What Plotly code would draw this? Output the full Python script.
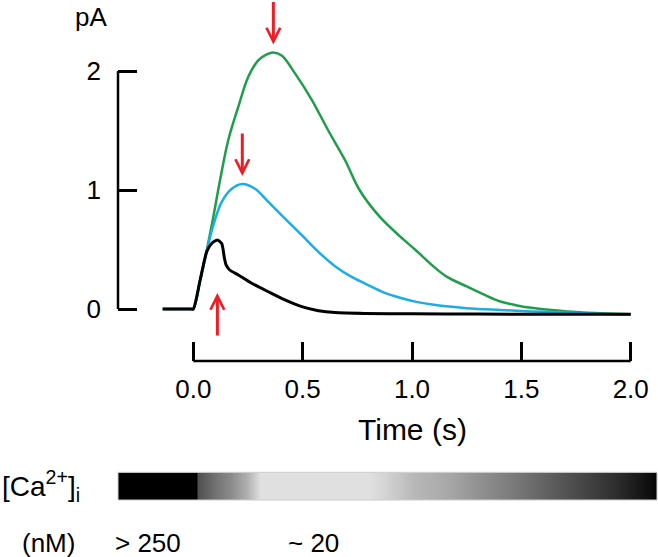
import plotly.graph_objects as go

# --- data ---
t_black = [-0.14, -0.012, 0.0, 0.031, 0.061, 0.084, 0.11, 0.13, 0.142, 0.15, 0.165, 0.206, 0.267, 0.343,
           0.419, 0.496, 0.572, 0.648, 0.785, 1.0, 1.3, 1.6, 2.0]
i_black = [0, 0, 0, 0.24, 0.48, 0.55, 0.58, 0.55, 0.43, 0.37, 0.33, 0.286, 0.216, 0.145,
           0.076, 0.02, -0.014, -0.03, -0.037, -0.04, -0.042, -0.044, -0.045]

t_blue = [-0.14, -0.012, 0.0, 0.031, 0.061, 0.091, 0.13, 0.176, 0.224, 0.282, 0.343, 0.419, 0.496,
          0.572, 0.648, 0.724, 0.79, 0.87, 0.945, 1.02, 1.1, 1.25, 1.4, 1.55, 1.7, 1.86, 2.0]
i_blue = [0, 0, 0, 0.24, 0.48, 0.70, 0.90, 1.01, 1.05, 1.01, 0.90, 0.76, 0.62,
          0.48, 0.36, 0.27, 0.21, 0.14, 0.095, 0.06, 0.035, 0.007, -0.008, -0.02, -0.03, -0.04, -0.045]

t_green = [-0.14, -0.012, 0.0, 0.031, 0.061, 0.091, 0.122, 0.16, 0.206, 0.251, 0.297, 0.336, 0.366,
           0.404, 0.465, 0.541, 0.617, 0.694, 0.76, 0.85, 0.945, 1.02, 1.097, 1.16, 1.25,
           1.33, 1.40, 1.48, 1.555, 1.71, 1.86, 2.0]
i_green = [0, 0, 0, 0.24, 0.49, 0.77, 1.08, 1.42, 1.70, 1.95, 2.09, 2.14, 2.155,
           2.13, 1.98, 1.76, 1.50, 1.25, 1.0, 0.78, 0.61, 0.49, 0.36, 0.27, 0.19,
           0.12, 0.065, 0.03, 0.008, -0.02, -0.035, -0.045]

# [Ca2+]i bar: grey level (0 black .. 255 white) along time
ca_t = [-0.349, 0.014, 0.020, 0.094, 0.168, 0.244, 0.306, 0.80, 0.854, 1.005, 1.160,
        1.311, 1.462, 1.617, 1.768, 1.919, 2.075, 2.12]
ca_grey = [0, 0, 80, 112, 138, 176, 224, 224, 216, 184, 168, 144, 122, 96, 72, 48, 16, 5]

x_ticks = [0, 0.5, 1.0, 1.5, 2.0]
x_ticktext = ["0.0", "0.5", "1.0", "1.5", "2.0"]
y_ticks = [0, 1, 2]

GREEN = "#1E9E4A"; BLUE = "#1CADE4"; RED = "#EE1C25"; INK = "black"
FONT = "Liberation Sans, Arial, sans-serif"

fig = go.Figure()
for t, v, c, w, sm in [(t_green, i_green, GREEN, 2.5, 1.0), (t_blue, i_blue, BLUE, 2.5, 1.0),
                       (t_black, i_black, INK, 3, 0.6)]:
    fig.add_trace(go.Scatter(x=t, y=v, mode="lines", line=dict(color=c, width=w, shape="spline", smoothing=sm),
                             hoverinfo="skip"))

fig.add_trace(go.Heatmap(x=ca_t, y=[0, 1], z=[ca_grey, ca_grey], xaxis="x", yaxis="y2",
                         colorscale=[[0, "black"], [1, "white"]], zmin=0, zmax=255,
                         zsmooth="best", showscale=False, hoverinfo="skip"))

fig.update_layout(
    width=658, height=557, margin=dict(l=118, r=1, t=30, b=57),
    plot_bgcolor="white", paper_bgcolor="white", showlegend=False,
    font=dict(family=FONT, color=INK),
    xaxis=dict(range=[-0.3443, 2.1202], domain=[0, 1], anchor="y", showgrid=False, zeroline=False,
               showline=False, ticks="inside", ticklen=19, tickwidth=2.5, tickcolor=INK,
               tickvals=x_ticks, ticktext=x_ticktext, tickfont=dict(size=26), ticklabelstandoff=10),
    yaxis=dict(range=[-0.437, 2.3445], domain=[0.2957, 1], anchor="x", showgrid=False, zeroline=False,
               showline=False, ticks="inside", ticklen=19, tickwidth=2.5, tickcolor=INK,
               tickvals=y_ticks, tickfont=dict(size=26), ticklabelstandoff=16),
    yaxis2=dict(range=[0, 1], domain=[0, 0.0589], anchor="x", visible=False),
)

# axis lines only over the labelled span
fig.add_shape(type="line", xref="x domain", yref="y", x0=0, x1=0, y0=0, y1=2, line=dict(color=INK, width=2.5))
fig.add_shape(type="line", xref="x", yref="y domain", x0=0, x1=2, y0=0, y1=0, line=dict(color=INK, width=2.5))
fig.add_shape(type="rect", xref="x domain", yref="y2 domain", x0=0, x1=1, y0=0, y1=1,
              line=dict(color="#CCCCCC", width=1))

# peak markers
for t, v, down in [(t_green, i_green, True), (t_blue, i_blue, True), (t_black, i_black, False)]:
    k = v.index(max(v))
    fig.add_annotation(x=t[k], y=v[k], xref="x", yref="y", text="", showarrow=True,
                       ax=0, ay=-52 if down else 97, standoff=8 if down else 53,
                       arrowhead=5, arrowsize=0.9, arrowwidth=3, arrowcolor=RED)

fig.add_annotation(xref="paper", yref="paper", x=-0.05, y=1.0277, text="pA", showarrow=False,
                   xanchor="center", yanchor="middle", font=dict(size=26))
fig.add_annotation(xref="x", yref="paper", x=1.0, y=0.149, text="Time (s)", showarrow=False,
                   yanchor="middle", font=dict(size=30))
fig.add_annotation(xref="paper", yref="paper", x=-0.219, y=0.03, text="[Ca<sup>2+</sup>]<sub>i</sub>",
                   showarrow=False, xanchor="left", yanchor="middle", font=dict(size=28))
for x, txt in [(-0.182, "(nM)"), (-0.0093, "&gt; 250"), (0.3117, "~ 20")]:
    fig.add_annotation(xref="paper", yref="paper", x=x, y=-0.0915, text=txt, showarrow=False,
                       xanchor="left", yanchor="middle", font=dict(size=26))

fig.write_html("out.html", config={"displayModeBar": False},
               post_script="document.body.style.margin='0';")
